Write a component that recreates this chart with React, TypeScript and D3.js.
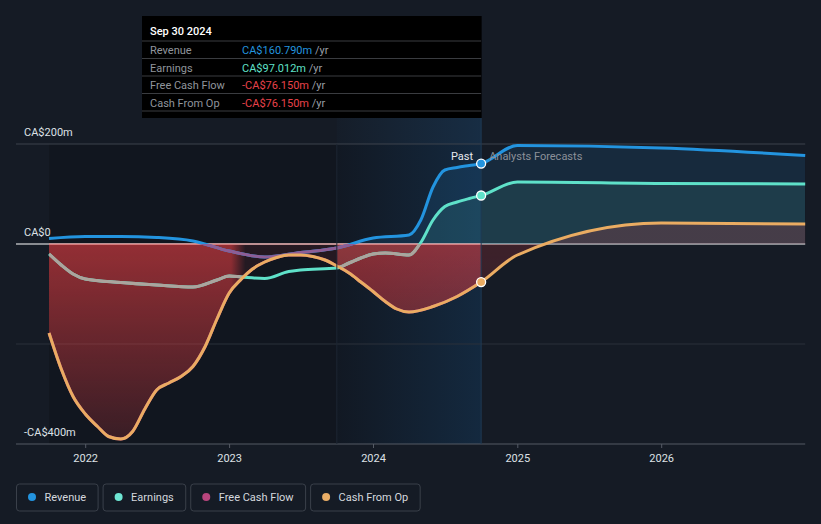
import React, { useMemo } from 'react';
import * as d3 from 'd3';

// ---------- DATA ----------
const revenueDates = [
  '2021-09-30', '2021-12-31', '2022-03-31', '2022-06-30', '2022-09-30', '2022-12-31',
  '2023-03-31', '2023-06-30', '2023-09-30', '2023-12-31', '2024-03-31', '2024-04-30',
  '2024-05-31', '2024-06-30', '2024-07-31', '2024-08-31', '2024-09-30',
  '2024-12-31', '2025-12-31', '2026-12-31',
];
const revenueValues = [
  11, 15, 15, 13, 6, -14,
  -26, -17, -8, 12, 18, 48,
  114, 148, 153, 157, 160.79,
  197, 192, 177,
];

const earningsDates = [
  '2021-09-30', '2021-10-31', '2021-11-30', '2021-12-31', '2022-03-31', '2022-06-30',
  '2022-09-30', '2022-11-30', '2022-12-31', '2023-01-31', '2023-03-31', '2023-05-31',
  '2023-06-30', '2023-09-30', '2023-10-31', '2023-11-30', '2023-12-31', '2024-01-31',
  '2024-03-31', '2024-04-30', '2024-05-31', '2024-06-30', '2024-07-31', '2024-08-31',
  '2024-09-30', '2024-12-31', '2025-12-31', '2026-12-31',
];
const earningsValues = [
  -20, -42, -60, -70, -77, -82,
  -86, -72, -64, -66, -69, -55,
  -52, -48, -38, -28, -20, -18,
  -22, 3, 48, 75, 84, 91,
  97.012, 124, 121, 120,
];

const cashFromOpDates = [
  '2021-09-30', '2021-10-31', '2021-11-30', '2021-12-31', '2022-01-31', '2022-02-28',
  '2022-03-31', '2022-04-30', '2022-05-31', '2022-06-30', '2022-07-31', '2022-08-31',
  '2022-09-30', '2022-10-31', '2022-11-30', '2022-12-31', '2023-01-31', '2023-02-28',
  '2023-03-31', '2023-04-30', '2023-05-31', '2023-06-30', '2023-07-31', '2023-08-31',
  '2023-09-30', '2023-10-31', '2023-11-30', '2023-12-31', '2024-01-31', '2024-02-29',
  '2024-03-31', '2024-05-31', '2024-07-31',
  '2024-09-30', '2024-12-31', '2025-12-31', '2026-12-31',
];
const cashFromOpValues = [
  -178, -250, -305, -340, -365, -385,
  -390, -375, -330, -292, -278, -265,
  -245, -205, -150, -98, -70, -50,
  -36, -27, -22, -22, -25, -32,
  -44, -58, -76, -95, -115, -130,
  -136, -125, -105,
  -76.15, -22, 42, 40,
];

const freeCashFlowDates = [
  '2021-09-30', '2021-10-31', '2021-11-30', '2021-12-31', '2022-01-31', '2022-02-28',
  '2022-03-31', '2022-04-30', '2022-05-31', '2022-06-30', '2022-07-31', '2022-08-31',
  '2022-09-30', '2022-10-31', '2022-11-30', '2022-12-31', '2023-01-31', '2023-02-28',
  '2023-03-31', '2023-04-30', '2023-05-31', '2023-06-30', '2023-07-31', '2023-08-31',
  '2023-09-30', '2023-10-31', '2023-11-30', '2023-12-31', '2024-01-31', '2024-02-29',
  '2024-03-31', '2024-05-31', '2024-07-31',
  '2024-09-30',
];
const freeCashFlowValues = [
  -178, -250, -305, -340, -365, -385,
  -390, -375, -330, -292, -278, -265,
  -245, -205, -150, -98, -70, -50,
  -36, -27, -22, -22, -25, -32,
  -44, -58, -76, -95, -115, -130,
  -136, -125, -105,
  -76.15,
];

const yLabelValues = [200, 0, -400];
const yLabelTexts = ['CA$200m', 'CA$0', '-CA$400m'];
const gridValues = [200, -200];
const xTickDates = ['2022-01-01', '2023-01-01', '2024-01-01', '2025-01-01', '2026-01-01'];
const xTickLabels = ['2022', '2023', '2024', '2025', '2026'];

const seriesNames = ['Revenue', 'Earnings', 'Free Cash Flow', 'Cash From Op'];
const seriesColors = ['#2394df', '#5fe1c9', '#bb467f', '#eaac62'];
const legendDotColors = ['#2394df', '#6ee6d3', '#b8457d', '#e9ad66'];

const tooltipTitle = 'Sep 30 2024';
const tooltipValues = ['CA$160.790m', 'CA$97.012m', '-CA$76.150m', '-CA$76.150m'];
const tooltipValueColors = ['#2394df', '#5fe1c9', '#e8424a', '#e8424a'];

const dataStart = '2021-09-30';
const highlightStart = '2023-09-30';
const pastEnd = '2024-09-30';
const forecastEnd = '2026-12-31';

// ---------- COMPONENT ----------
type Pt = { date: Date; value: number };
const parse = d3.utcParse('%Y-%m-%d');
const mk = (dates: string[], vals: number[]): Pt[] =>
  dates.map((d, i) => ({ date: parse(d) as Date, value: vals[i] }));

const FONT = 'Roboto, "Noto Sans", sans-serif';

function measure(text: string, size: number): number {
  try {
    const c = document.createElement('canvas');
    const ctx = c.getContext('2d');
    if (ctx) {
      ctx.font = `${size}px Roboto`;
      return ctx.measureText(text).width;
    }
  } catch (e) {}
  return text.length * size * 0.52;
}

export default function App() {
  const W = 821;
  const H = 524;

  const x = d3
    .scaleUtc()
    .domain([parse('2022-01-01') as Date, parse('2026-01-01') as Date])
    .range([85.7, 661.7]);
  const y = d3.scaleLinear().domain([-400, 200]).range([444, 144]);

  const revenue = mk(revenueDates, revenueValues);
  const earnings = mk(earningsDates, earningsValues);
  const cfo = mk(cashFromOpDates, cashFromOpValues);
  const fcf = mk(freeCashFlowDates, freeCashFlowValues);

  const line = d3
    .line<Pt>()
    .x((d) => x(d.date))
    .y((d) => y(d.value))
    .curve(d3.curveMonotoneX);
  const area = d3
    .area<Pt>()
    .x((d) => x(d.date))
    .y0(y(0))
    .y1((d) => y(d.value))
    .curve(d3.curveMonotoneX);

  const left = 16;
  const right = x(parse(forecastEnd) as Date);
  const xStart = x(parse(dataStart) as Date);
  const xHi = x(parse(highlightStart) as Date);
  const xPast = x(parse(pastEnd) as Date);
  const y0 = y(0);
  const yTop = y(200);
  const yBot = y(-400);

  const redArea = area(cfo) as string;

  const maskStops: [number, number][] = [
    [xStart, 1],
    [x(parse('2023-01-05') as Date), 1],
    [x(parse('2023-02-10') as Date), 0.16],
    [xHi - 0.5, 0.16],
    [xHi + 0.5, 0.92],
    [xPast - 0.5, 0.92],
    [xPast + 0.5, 0.32],
    [right, 0.32],
  ];

  const legendLayout = useMemo(() => {
    let cx = 16.5;
    return seriesNames.map((n) => {
      const w = measure(n, 11) + 40;
      const item = { x: cx, w };
      cx += w + 5;
      return item;
    });
  }, []);

  const last = (arr: Pt[]) => arr.find((d) => +d.date === +(parse(pastEnd) as Date)) as Pt;
  const dots = [
    { p: last(revenue), c: seriesColors[0] },
    { p: last(earnings), c: seriesColors[1] },
    { p: last(cfo), c: seriesColors[3] },
  ];

  const rowY = [54, 71.5, 89, 106.5];
  const sepY = [41, 58.5, 76, 93.5, 111];

  return (
    <div style={{ position: 'absolute', left: 0, top: 0, width: W, height: H }}>
      <svg width={W} height={H} style={{ display: 'block', fontFamily: FONT }}>
        <defs>
          <linearGradient id="redGrad" gradientUnits="userSpaceOnUse" x1={0} x2={0} y1={y0} y2={yBot}>
            <stop offset="0" stopColor="rgb(228,62,66)" stopOpacity={0.62} />
            <stop offset="1" stopColor="rgb(228,62,66)" stopOpacity={0.18} />
          </linearGradient>
          <linearGradient id="maskGrad" gradientUnits="userSpaceOnUse" x1={0} x2={W} y1={0} y2={0}>
            {maskStops.map(([sx, m], i) => (
              <stop key={i} offset={sx / W} stopColor="#fff" stopOpacity={m} />
            ))}
          </linearGradient>
          <mask id="redMask" maskUnits="userSpaceOnUse" x={0} y={0} width={W} height={H}>
            <rect x={0} y={0} width={W} height={H} fill="url(#maskGrad)" />
          </mask>
          <linearGradient id="hiGrad" gradientUnits="userSpaceOnUse" x1={xHi} x2={xPast} y1={0} y2={0}>
            <stop offset="0" stopColor="rgb(35,140,230)" stopOpacity={0.02} />
            <stop offset="1" stopColor="rgb(35,140,230)" stopOpacity={0.16} />
          </linearGradient>
          <clipPath id="clipFill">
            <rect x={xHi} y={0} width={right - xHi} height={H} />
          </clipPath>
          <clipPath id="clipRed">
            <path d={redArea} />
          </clipPath>
          <clipPath id="clipNeg">
            <rect x={xStart} y={y0} width={xPast - xStart} height={yBot - y0} />
          </clipPath>
        </defs>

        {/* background */}
        <rect x={0} y={0} width={W} height={H} fill="#151b25" />
        <rect x={xStart} y={yTop} width={xPast - xStart} height={yBot - yTop} fill="rgba(0,0,0,0.15)" />
        <rect x={xHi} y={118} width={xPast - xHi} height={yBot - 118} fill="url(#hiGrad)" />

        {/* grid */}
        {gridValues.map((v, i) => (
          <line
            key={i}
            x1={left}
            x2={right}
            y1={y(v)}
            y2={y(v)}
            stroke={v > 0 ? '#3d434d' : '#2a303a'}
            strokeWidth={1}
          />
        ))}
        <line x1={left} x2={right} y1={yBot} y2={yBot} stroke="#555b65" strokeWidth={1} />
        {xTickDates.map((d, i) => {
          const tx = x(parse(d) as Date);
          return <line key={i} x1={tx} x2={tx} y1={yBot} y2={yBot + 4} stroke="#555b65" strokeWidth={1} />;
        })}
        <line x1={left} x2={right} y1={y0} y2={y0} stroke="#ffffff" strokeWidth={1} />

        {/* series fills in highlight + forecast */}
        <g clipPath="url(#clipFill)">
          <path d={area(revenue) as string} fill="rgb(35,148,223)" fillOpacity={0.13} />
          <path d={area(earnings) as string} fill="rgb(95,225,201)" fillOpacity={0.1} />
        </g>

        {/* negative / cash area */}
        <path d={redArea} fill="url(#redGrad)" mask="url(#redMask)" />
        <line x1={xStart} x2={xPast} y1={y0} y2={y0} stroke="#ef9a9a" strokeWidth={1} />

        {/* lines */}
        <path d={line(fcf) as string} fill="none" stroke={seriesColors[2]} strokeWidth={3} />
        <path d={line(revenue) as string} fill="none" stroke={seriesColors[0]} strokeWidth={3} />
        <path d={line(earnings) as string} fill="none" stroke={seriesColors[1]} strokeWidth={3} />
        <g clipPath="url(#clipNeg)">
          <path d={line(revenue) as string} fill="none" stroke="#8e5d95" strokeWidth={3} />
        </g>
        <g clipPath="url(#clipRed)">
          <path d={line(earnings) as string} fill="none" stroke="#aca49d" strokeWidth={3} />
        </g>
        <path d={line(cfo) as string} fill="none" stroke={seriesColors[3]} strokeWidth={3} />

        {/* highlight edges */}
        <line x1={xHi} x2={xHi} y1={yTop} y2={yBot} stroke="#1d2633" strokeWidth={1} />
        <line x1={xPast} x2={xPast} y1={118} y2={yBot} stroke="#1f3a54" strokeWidth={1} />

        {/* dots */}
        {dots.map((d, i) => (
          <circle key={i} cx={x(d.p.date)} cy={y(d.p.value)} r={4.5} fill={d.c} stroke="#ffffff" strokeWidth={1.3} />
        ))}

        {/* past / forecast labels */}
        <text x={xPast - 8} y={160} fontSize={11} fill="#e6e9ee" textAnchor="end">
          Past
        </text>
        <text x={xPast + 8} y={160} fontSize={11} fill="#8b9099">
          Analysts Forecasts
        </text>

        {/* y labels */}
        {yLabelValues.map((v, i) => (
          <text key={i} x={24} y={y(v) - 8} fontSize={11} fill="#dde1e6">
            {yLabelTexts[i]}
          </text>
        ))}

        {/* x labels */}
        {xTickDates.map((d, i) => (
          <text key={i} x={x(parse(d) as Date)} y={462} fontSize={11} fill="#dde1e6" textAnchor="middle">
            {xTickLabels[i]}
          </text>
        ))}

        {/* tooltip */}
        <rect x={142} y={16} width={xPast - 142 + 0.5} height={102} fill="#000000" />
        <text x={150} y={35} fontSize={11} fontWeight={500} fill="#ffffff">
          {tooltipTitle}
        </text>
        {sepY.map((sy, i) => (
          <line key={i} x1={142} x2={xPast} y1={sy} y2={sy} stroke="#3a3c40" strokeWidth={1} />
        ))}
        {seriesNames.map((n, i) => (
          <g key={i}>
            <text x={150} y={rowY[i]} fontSize={11} fill="#90959c">
              {n}
            </text>
            <text x={242} y={rowY[i]} fontSize={11}>
              <tspan fill={tooltipValueColors[i]}>{tooltipValues[i]}</tspan>
              <tspan fill="#9a9fa6"> /yr</tspan>
            </text>
          </g>
        ))}

        {/* legend */}
        {legendLayout.map((l, i) => (
          <g key={i}>
            <rect x={l.x} y={484} width={l.w} height={27} rx={3} fill="none" stroke="#3a404a" strokeWidth={1} />
            <circle cx={l.x + 15.5} cy={497} r={4} fill={legendDotColors[i]} />
            <text x={l.x + 28} y={501} fontSize={11} fill="#d4d8de">
              {seriesNames[i]}
            </text>
          </g>
        ))}
      </svg>
    </div>
  );
}
